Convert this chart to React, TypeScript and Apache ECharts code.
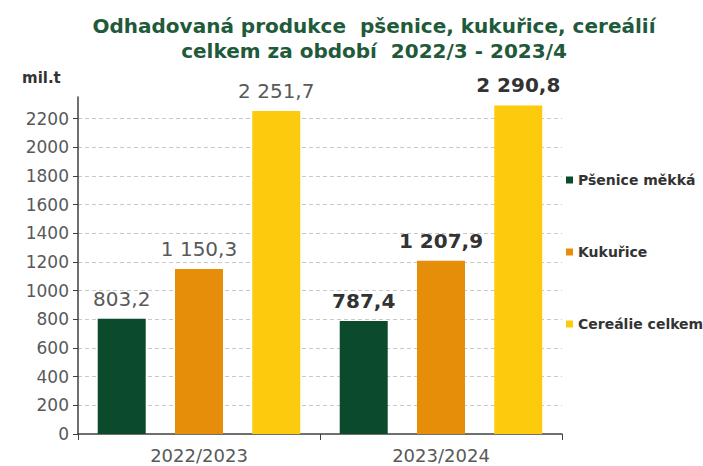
import React, { useEffect, useRef } from "react";
import * as echarts from "echarts";

const categories = ["2022/2023", "2023/2024"];
const seriesNames = ["Pšenice měkká", "Kukuřice", "Cereálie celkem"];
const wheat = [803.2, 787.4];
const maize = [1150.3, 1207.9];
const cereals = [2251.7, 2290.8];
const yTicks = [0, 200, 400, 600, 800, 1000, 1200, 1400, 1600, 1800, 2000, 2200];
const colors = ["#0b4a2b", "#e68d0a", "#fccb0e"];

function fmt(v: number): string {
  const s = v.toFixed(1).split(".");
  const int = s[0].replace(/\B(?=(\d{3})+(?!\d))/g, " ");
  return int + "," + s[1];
}

export default function App() {
  const ref = useRef<HTMLDivElement>(null);
  useEffect(() => {
    document.body.style.margin = "0";
    const chart = echarts.init(ref.current!, null, { renderer: "svg" });
    const font = "DejaVu Sans";
    const mkData = (arr: number[]) =>
      arr.map((v, i) =>
        i === 0
          ? { value: v, label: { color: "#595959", fontWeight: "normal", fontSize: 20 } }
          : { value: v, label: { color: "#333333", fontWeight: "bold", fontSize: 20 } }
      );
    const mkSeries = (name: string, arr: number[], color: string) => ({
      name,
      type: "bar",
      data: mkData(arr),
      barWidth: 48,
      barGap: "61%",
      itemStyle: { color },
      label: {
        show: true,
        position: "top",
        distance: 10,
        fontFamily: font,
        fontSize: 20,
        formatter: (p: any) => fmt(p.value),
      },
    });
    chart.setOption({
      animation: false,
      textStyle: { fontFamily: font },
      title: {
        text: "Odhadovaná produkce  pšenice, kukuřice, cereálií\ncelkem za období  2022/3 - 2023/4",
        left: 369,
        textAlign: "center",
        top: 8,
        textStyle: {
          fontFamily: font,
          fontSize: 20,
          fontWeight: "bold",
          color: "#1f5a3a",
          lineHeight: 25,
        },
      },
      legend: {
        orient: "vertical",
        left: 561,
        top: 168,
        itemWidth: 7,
        itemHeight: 7,
        itemGap: 58,
        icon: "rect",
        data: seriesNames,
        textStyle: {
          fontFamily: font,
          fontSize: 14,
          fontWeight: "bold",
          color: "#333333",
        },
        selectedMode: false,
      },
      grid: { left: 78, right: 141, top: 97, bottom: 32, containLabel: false },
      xAxis: {
        type: "category",
        data: categories,
        axisLine: { lineStyle: { color: "#404040", width: 1.5 } },
        axisTick: { show: true, length: 6, lineStyle: { color: "#404040" } },
        axisLabel: { fontFamily: font, fontSize: 18, color: "#595959", margin: 12 },
      },
      yAxis: {
        type: "value",
        min: 0,
        max: 2350,
        interval: 200,
        axisLine: { show: true, lineStyle: { color: "#404040", width: 1.5 } },
        axisTick: { show: true, length: 5, lineStyle: { color: "#404040" }, customValues: yTicks },
        axisLabel: {
          fontFamily: font,
          fontSize: 17,
          color: "#595959",
          margin: 9,
          customValues: yTicks,
          formatter: (v: number) => String(v),
        },
        splitLine: {
          show: true,
          showMinLine: false,
          lineStyle: { color: "#c8c8c8", type: [4, 3], width: 1 },
        },
      },
      graphic: [
        {
          type: "text",
          left: 22,
          top: 70,
          style: {
            text: "mil.t",
            fontFamily: font,
            fontSize: 15,
            fontWeight: "bold",
            fill: "#333333",
          },
        },
      ],
      series: [
        mkSeries(seriesNames[0], wheat, colors[0]),
        mkSeries(seriesNames[1], maize, colors[1]),
        mkSeries(seriesNames[2], cereals, colors[2]),
      ],
    });
    return () => chart.dispose();
  }, []);
  return <div ref={ref} style={{ width: 703, height: 466 }} />;
}
